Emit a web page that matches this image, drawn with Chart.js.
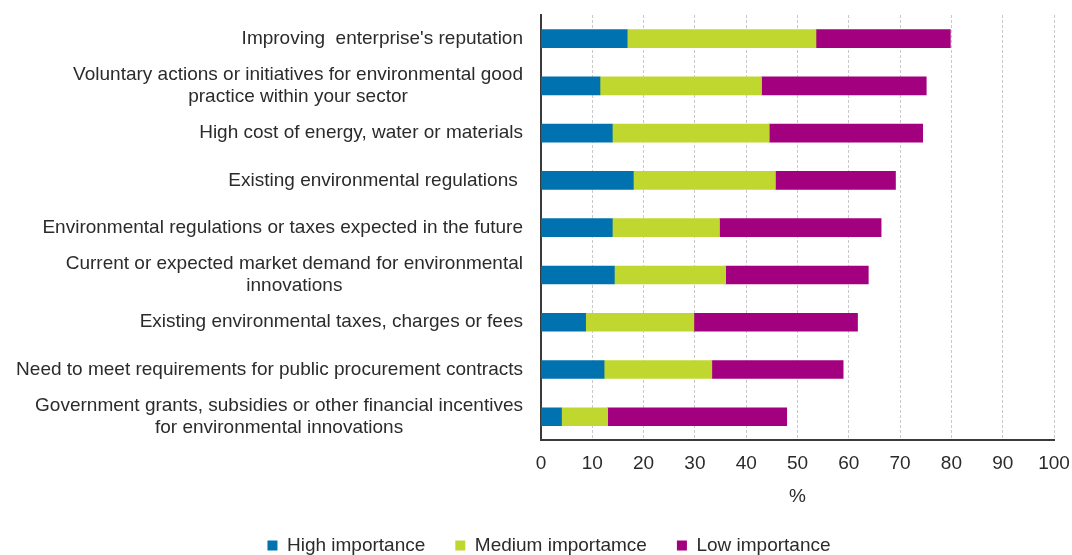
<!DOCTYPE html>
<html>
<head>
<meta charset="utf-8">
<script src="https://cdn.jsdelivr.net/npm/chart.js@4/dist/chart.umd.min.js"></script>
<style>
  html, body { margin: 0; padding: 0; background: #fff; }
  #wrap { width: 1072px; height: 555px; position: relative; }
</style>
</head>
<body>
<div id="wrap"><canvas id="chart"></canvas></div>
<script>
const categories = [
  ["Improving  enterprise's reputation"],
  ["Voluntary actions or initiatives for environmental good", "practice within your sector"],
  ["High cost of energy, water or materials"],
  ["Existing environmental regulations "],
  ["Environmental regulations or taxes expected in the future"],
  ["Current or expected market demand for environmental", "innovations"],
  ["Existing environmental taxes, charges or fees"],
  ["Need to meet requirements for public procurement contracts"],
  ["Government grants, subsidies or other financial incentives", "for environmental innovations"],
];

const highImportance = [16.8, 11.5, 13.9, 18.0, 13.9, 14.3, 8.7, 12.3, 4.0];
const mediumImportance = [36.8, 31.5, 30.6, 27.7, 20.9, 21.7, 21.1, 21.0, 9.0];
const lowImportance = [26.2, 32.1, 29.9, 23.4, 31.5, 27.8, 31.9, 25.6, 34.9];

const seriesNames = ["High importance", "Medium importamce", "Low importance"];
const seriesColors = ["#0072b0", "#c0d730", "#a2007e"];

const FONT = '"Liberation Sans", Arial, sans-serif';
const TEXT = "#2b2b2b";

// category labels: block right-aligned next to the axis, lines centred within the block
const categoryLabels = {
  id: "categoryLabels",
  afterDraw(chart) {
    const { ctx } = chart;
    const yScale = chart.scales.y;
    const right = 523;
    const lineH = 22;
    ctx.save();
    ctx.font = "19px " + FONT;
    ctx.fillStyle = TEXT;
    ctx.textBaseline = "middle";
    ctx.textAlign = "center";
    categories.forEach((lines, i) => {
      const y = yScale.getPixelForValue(i);
      const blockW = Math.max(...lines.map((l) => ctx.measureText(l).width));
      const cx = right - blockW / 2;
      const y0 = y - ((lines.length - 1) * lineH) / 2;
      lines.forEach((l, j) => ctx.fillText(l, cx, y0 + j * lineH));
    });
    ctx.restore();
  },
};

const ctx = document.getElementById("chart").getContext("2d");
new Chart(ctx, {
  type: "bar",
  data: {
    labels: categories.map((c) => c.join(" ")),
    datasets: [highImportance, mediumImportance, lowImportance].map((data, i) => ({
      label: seriesNames[i],
      data: data,
      backgroundColor: seriesColors[i],
      borderWidth: 0,
      barThickness: 18,
    })),
  },
  options: {
    indexAxis: "y",
    responsive: true,
    maintainAspectRatio: false,
    animation: false,
    layout: {
      padding: { top: 15, right: 0, left: 26, bottom: -10 },
    },
    plugins: {
      legend: {
        position: "bottom",
        labels: {
          boxWidth: 10,
          boxHeight: 10,
          padding: 30,
          color: TEXT,
          font: { family: FONT, size: 19 },
        },
      },
      tooltip: { enabled: false },
    },
    scales: {
      x: {
        stacked: true,
        min: 0,
        max: 100,
        grid: {
          color: "#c8c8c8",
          lineWidth: 1,
          drawTicks: false,
        },
        border: {
          display: true,
          color: "#3a3a3a",
          width: 2,
          dash: [3, 2],
        },
        ticks: {
          stepSize: 10,
          padding: 12,
          color: TEXT,
          font: { family: FONT, size: 19 },
        },
        title: {
          display: true,
          text: "%",
          color: TEXT,
          font: { family: FONT, size: 19 },
          padding: { top: -2, bottom: -2 },
        },
        afterFit(scale) {
          // room on the right only for half of the "100" label
          scale.paddingRight = 18;
        },
      },
      y: {
        stacked: true,
        grid: { display: false },
        border: { display: true, color: "#3a3a3a", width: 2 },
        ticks: { display: false },
        afterFit(scale) {
          scale.width = 515;
        },
      },
    },
  },
  plugins: [categoryLabels],
});
</script>
</body>
</html>
